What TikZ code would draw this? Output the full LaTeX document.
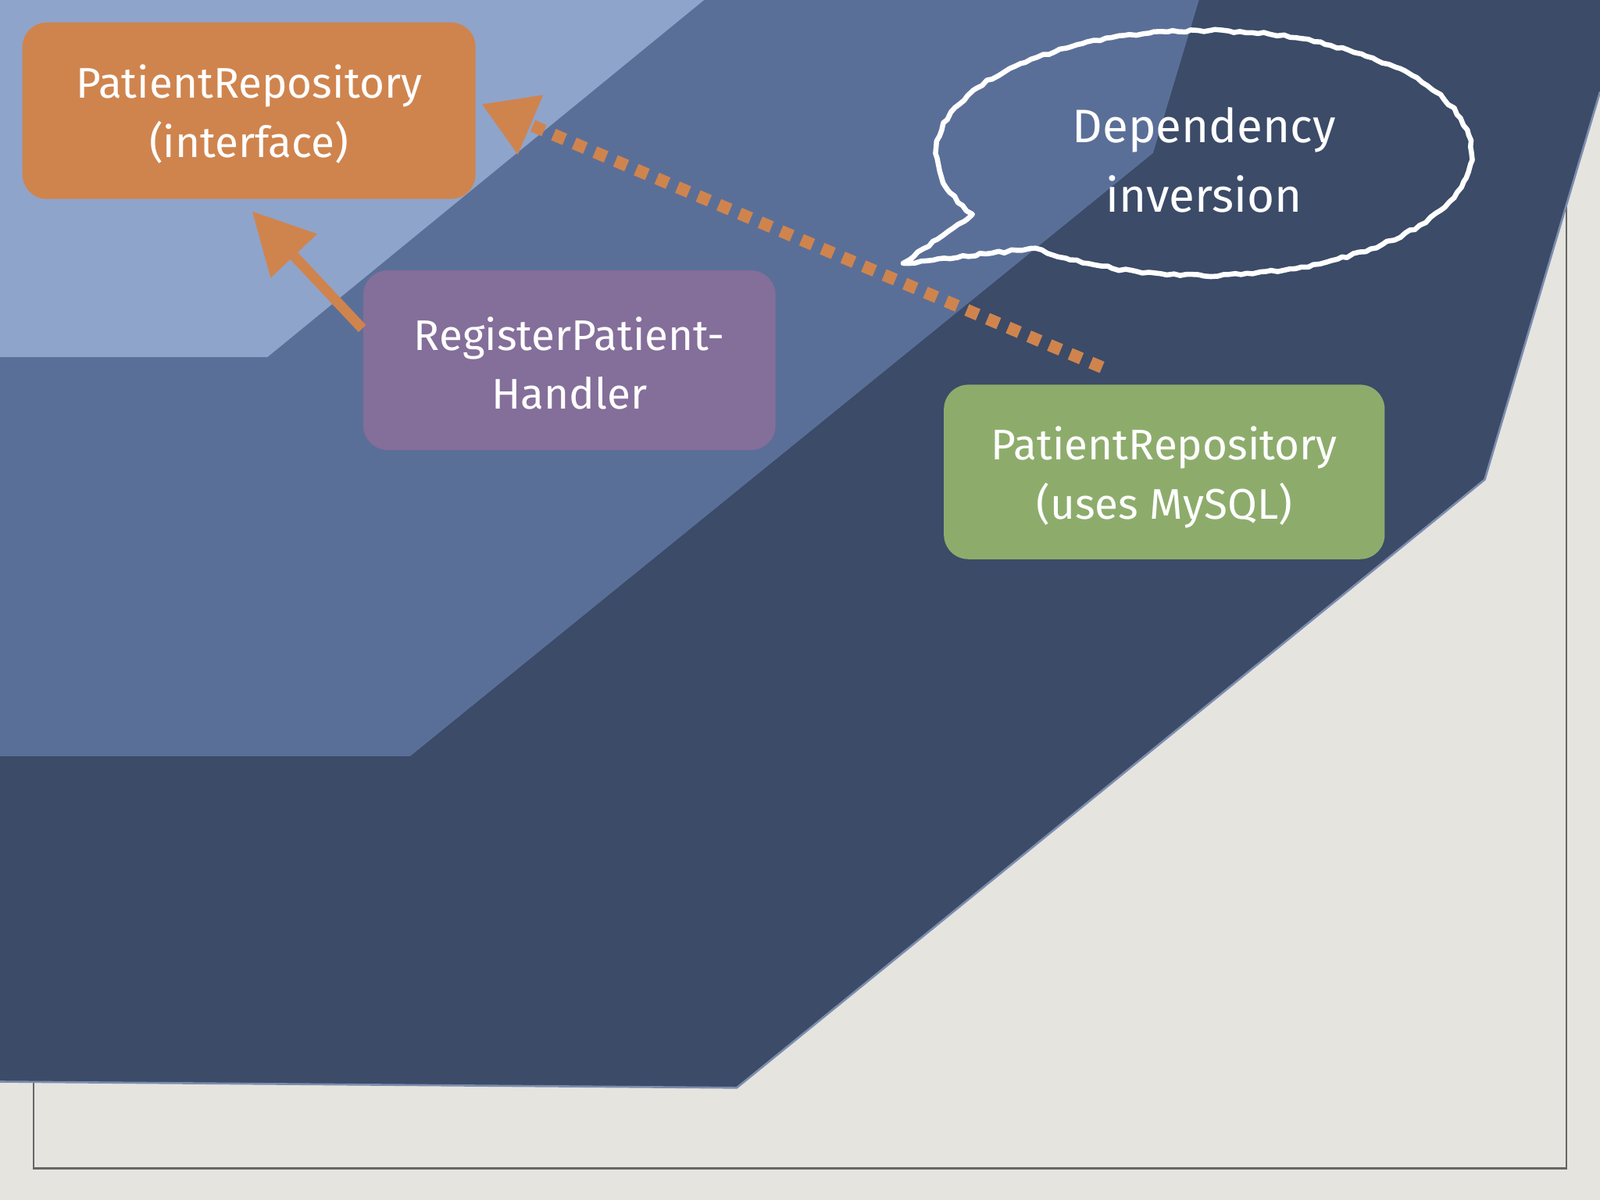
\documentclass[tikz,border=0pt]{standalone}
\usepackage{fontspec}
\setmainfont{Fira Sans}
\usetikzlibrary{arrows.meta,decorations.pathmorphing}
\definecolor{bg}{HTML}{E6E4DF}
\definecolor{dark}{HTML}{3B4B68}
\definecolor{mid}{HTML}{5A6F98}
\definecolor{light}{HTML}{8FA4CB}
\definecolor{orng}{HTML}{CF844E}
\definecolor{purp}{HTML}{846E9A}
\definecolor{grn}{HTML}{8DAC6C}
\tikzset{box/.style={rounded corners=12pt,inner sep=0pt,text=white,align=center,font=\fontsize{21}{29}\selectfont}}
\begin{document}
\begin{tikzpicture}[x=0.5pt,y=-0.5pt]
\useasboundingbox (0,0) rectangle (1568,1176);
\fill[bg] (0,0) rectangle (1568,1176);
\draw[gray!80!black,line width=1pt] (33,0) rectangle (1535,1145);
\fill[dark] (0,0) -- (1568,0) -- (1568,90) -- (1455,470) -- (722,1066) -- (0,1060) -- cycle;
\draw[mid!80!white,line width=1pt] (1568,90) -- (1455,470) -- (722,1066) -- (0,1060);
\fill[mid] (0,0) -- (1175,0) -- (1130,150) -- (402,741) -- (0,741) -- cycle;
\fill[light] (0,0) -- (690,0) -- (262,350) -- (0,350) -- cycle;
\fill[orng,rounded corners=12pt] (22,22) rectangle (466,195);
\node[box] (iface) at (244,112) {PatientRepository\\(interface)};
\fill[purp,rounded corners=12pt] (356,265) rectangle (760,441);
\node[box] (handler) at (558,356) {RegisterPatient-\\Handler};
\fill[grn,rounded corners=12pt] (925,377) rectangle (1357,548);
\node[box] (mysql) at (1141,468) {PatientRepository\\(uses MySQL)};
\coordinate (ha) at (355,322);
\coordinate (ia) at (247,207);
\draw[orng,line width=5pt,-{Triangle[length=30pt,width=30pt]}] (ha) -- (ia);
\coordinate (ma) at (1080,360);
\coordinate (ib) at (472,102);
\draw[orng,line width=6pt,dash pattern=on 6pt off 5pt,-{Triangle[length=26pt,width=30pt]}] (ma) -- (ib);
\draw[white,line width=2.5pt,line join=round,decorate,decoration={random steps,segment length=3pt,amplitude=0.6pt}]
  (885,258) -- (953,210) arc[start angle=150,end angle=489,x radius=262,y radius=120] -- cycle;
\node[text=white,align=center,font=\fontsize{23}{34}\selectfont] (bub) at (1180,157) {Dependency\\inversion};
\end{tikzpicture}
\end{document}
